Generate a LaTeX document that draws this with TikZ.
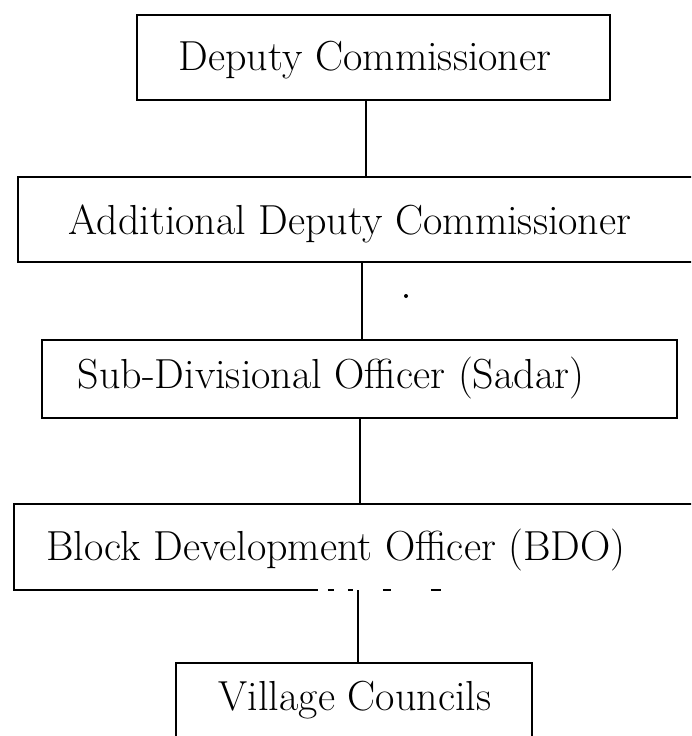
\documentclass[tikz,border=0pt]{standalone}
\usepackage{fontspec}
\usetikzlibrary{calc}
\newcommand\chartfont{\fontsize{42}{50}\selectfont}
\begin{document}
\begin{tikzpicture}[x=1pt,y=-1pt,
  boxline/.style={draw=black, line width=1.6pt, rectangle, inner sep=0pt},
  openbox/.style={rectangle, inner sep=0pt},
  boxtext/.style={inner sep=0pt, anchor=base, font=\chartfont},
  link/.style={draw=black, line width=1.6pt}]
\useasboundingbox (0,0) rectangle (691,736);
\clip (0,0) rectangle (691,736);

% boxes
\node[boxline, minimum width=473, minimum height=85] (dc)  at (373.5,57.5) {};
\node[boxline, minimum width=702, minimum height=85] (adc) at (369,219.5)  {};
\node[boxline, minimum width=635, minimum height=78] (sdo) at (359.5,379)  {};
\node[openbox, minimum width=676, minimum height=86] (bdo) at (352,547)    {};
\node[boxline, minimum width=356, minimum height=97] (vc)  at (354,711.5)  {};

% box labels
\node[boxtext] (dct)  at (365,70)  {Deputy Commissioner};
\node[boxtext] (adct) at (350,234) {Additional Deputy Commissioner};
\node[boxtext] (sdot) at (331,388) {Sub-Divisional Officer (Sadar)};
\node[boxtext] (bdot) at (336,560) {Block Development Officer (BDO)};
\node[boxtext] (vct)  at (355,710) {Village Councils};

% the BDO box is open on the right, its lower edge broken
\draw[link] ($(bdo.north east)+(10,0)$) -- (bdo.north west) -- (bdo.south west)
  -- ($(bdo.south west)+(290,0)$);
\draw[link, dash pattern=on 14pt off 10pt on 6pt off 14pt on 5pt off 30pt on 8pt off 40pt on 10pt off 80pt]
  ($(bdo.south west)+(290,0)$) -- ($(bdo.south west)+(428,0)$);

% connectors
\coordinate (x1) at (366,0);
\coordinate (x2) at (362,0);
\coordinate (x3) at (360,0);
\coordinate (x4) at (358,0);
\draw[link] (x1 |- dc.south)  -- (x1 |- adc.north);
\draw[link] (x2 |- adc.south) -- (x2 |- sdo.north);
\draw[link] (x3 |- sdo.south) -- (x3 |- bdo.north);
\draw[link] (x4 |- bdo.south) -- (x4 |- vc.north);

% speck
\fill (406,296) circle (2);
\end{tikzpicture}
\end{document}
